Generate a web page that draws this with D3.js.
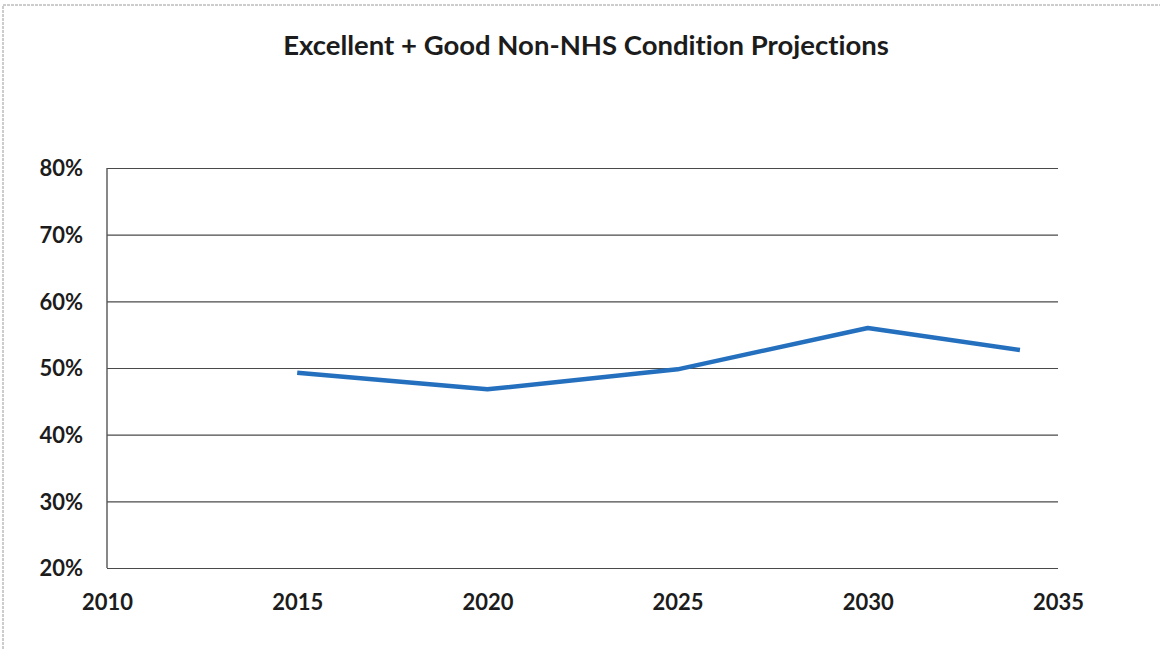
<!DOCTYPE html>
<html>
<head>
<meta charset="utf-8">
<script src="https://cdn.jsdelivr.net/npm/d3@7"></script>
<style>
  html, body { margin: 0; padding: 0; background: #fff; }
  svg { display: block; }
  text { font-family: Lato, "Open Sans", sans-serif; font-weight: bold; fill: #1c1c1c;
         font-variant-ligatures: none; font-feature-settings: "liga" 0, "clig" 0; }
</style>
</head>
<body>
<script>
// Share of non-NHS estate in Excellent + Good condition, by year
const years = [2015, 2020, 2025, 2030, 2034];
const shares = [49.3, 46.8, 49.8, 56.0, 52.7];
const xTicks = [2010, 2015, 2020, 2025, 2030, 2035];
const yTicks = [20, 30, 40, 50, 60, 70, 80];
const title = "Excellent + Good Non-NHS Condition Projections";

const W = 1160, H = 649;
const svg = d3.select("body").append("svg").attr("width", W).attr("height", H);

// chart frame
svg.append("path")
  .attr("d", `M3,${H} V5 H${W}`)
  .attr("fill", "none")
  .attr("stroke", "#9a9a9a")
  .attr("stroke-width", 1)
  .attr("stroke-dasharray", "3,1");

const x = d3.scaleLinear().domain([2010, 2035]).range([107, 1058]);
const y = d3.scaleLinear().domain([20, 80]).range([568, 168]);

svg.append("text")
  .attr("x", 586).attr("y", 55)
  .attr("text-anchor", "middle")
  .style("font-size", "27.5px")
  .text(title);

// horizontal gridlines
svg.append("g")
  .attr("transform", `translate(${x.range()[0]},0)`)
  .call(d3.axisLeft(y).tickValues(yTicks).tickSize(-(x.range()[1] - x.range()[0])).tickFormat(""))
  .call(g => g.select(".domain").remove())
  .call(g => g.selectAll("line").attr("stroke", "#4a4a4a").attr("stroke-width", 1.1));

// y axis line
svg.append("line")
  .attr("x1", x.range()[0]).attr("x2", x.range()[0])
  .attr("y1", y(80)).attr("y2", y(20))
  .attr("stroke", "#555").attr("stroke-width", 1.4);

// y tick labels
svg.append("g")
  .attr("transform", "translate(83,0)")
  .call(d3.axisLeft(y).tickValues(yTicks).tickSize(0).tickFormat(d => d + "%"))
  .call(g => g.select(".domain").remove())
  .call(g => g.selectAll("text").attr("x", 0).attr("dy", "0.35em")
    .style("font-size", "22px").style("font-family", "Lato, sans-serif").attr("fill", "#1c1c1c"));

// x tick labels
svg.append("g")
  .attr("transform", `translate(0,${y(20)})`)
  .call(d3.axisBottom(x).tickValues(xTicks).tickSize(0).tickFormat(d3.format("d")))
  .call(g => g.select(".domain").remove())
  .call(g => g.selectAll("text").attr("y", 42).attr("dy", 0)
    .style("font-size", "22px").style("font-family", "Lato, sans-serif").attr("fill", "#1c1c1c"));

// projection line
const line = d3.line().x((d, i) => x(years[i])).y(d => y(d));
svg.append("path")
  .datum(shares)
  .attr("d", line)
  .attr("fill", "none")
  .attr("stroke", "#2470bf")
  .attr("stroke-width", 4.5)
  .attr("stroke-linejoin", "round")
  .attr("stroke-linecap", "butt");
</script>
</body>
</html>
